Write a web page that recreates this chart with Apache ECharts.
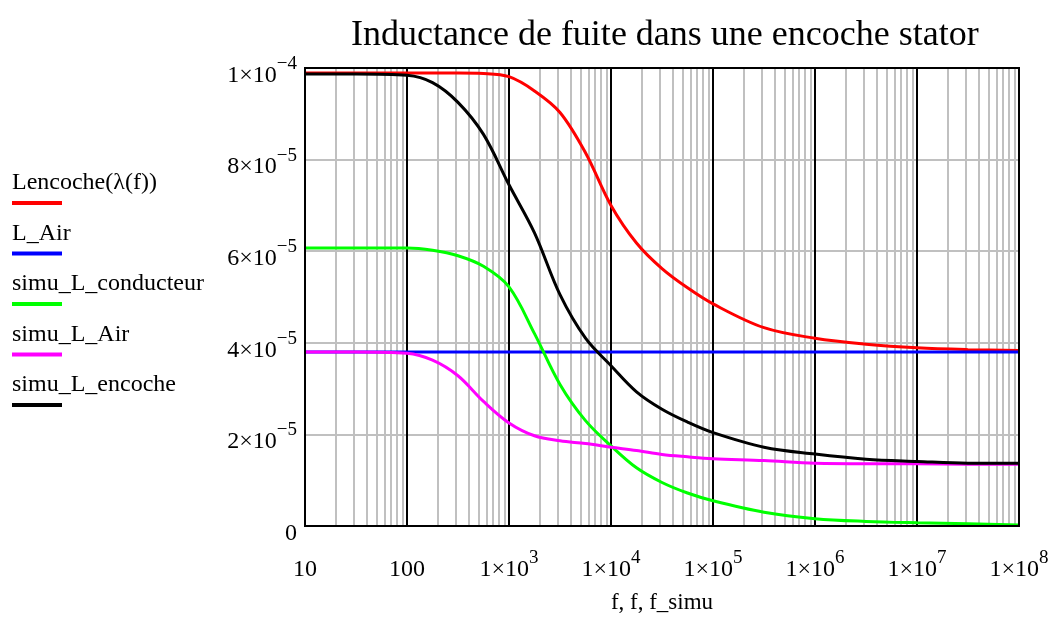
<!DOCTYPE html>
<html>
<head>
    <meta charset="utf-8"/>
    <style>
        html, body {
            height: 100%;
            margin: 0;
            padding: 0;
            background: #fff;
        }

        .container {
            width: 1053px;
            height: 619px;
        }
    </style>
</head>

<body>
<div id="main" class="container"></div>
<script src="https://cdn.jsdelivr.net/npm/echarts@6/dist/echarts.min.js"></script>
<script type="text/javascript">
// frequences (Hz) des points relevés
var freqs = [10, 31.6, 100, 178, 316, 562, 1000, 1778, 3162, 5623, 10000, 17783, 31623, 56234,
    1e5, 316228, 1e6, 3162278, 1e7, 31622777, 1e8];

// inductances (H)
var lencoche = [9.89e-5, 9.89e-5, 9.89e-5, 9.89e-5, 9.89e-5, 9.88e-5, 9.81e-5, 9.5e-5, 9.03e-5, 8.15e-5,
    7.0e-5, 6.18e-5, 5.62e-5, 5.2e-5, 4.85e-5, 4.33e-5, 4.1e-5, 3.97e-5, 3.89e-5, 3.85e-5, 3.83e-5];
var lAirFreqs = [10, 1e8];
var lAir = [3.8e-5, 3.8e-5];
var simuConducteur = [6.07e-5, 6.07e-5, 6.07e-5, 6.02e-5, 5.9e-5, 5.67e-5, 5.22e-5, 4.2e-5, 3.09e-5, 2.3e-5,
    1.75e-5, 1.27e-5, 0.95e-5, 0.72e-5, 0.55e-5, 0.3e-5, 0.16e-5, 0.1e-5, 0.07e-5, 0.05e-5, 0.02e-5];
var simuAir = [3.8e-5, 3.8e-5, 3.77e-5, 3.62e-5, 3.28e-5, 2.72e-5, 2.25e-5, 1.97e-5, 1.86e-5, 1.8e-5,
    1.72e-5, 1.65e-5, 1.56e-5, 1.51e-5, 1.47e-5, 1.43e-5, 1.37e-5, 1.36e-5, 1.36e-5, 1.35e-5, 1.35e-5];
var simuEncoche = [9.87e-5, 9.87e-5, 9.84e-5, 9.68e-5, 9.25e-5, 8.55e-5, 7.45e-5, 6.4e-5, 5.05e-5, 4.1e-5,
    3.5e-5, 2.93e-5, 2.55e-5, 2.27e-5, 2.04e-5, 1.72e-5, 1.57e-5, 1.46e-5, 1.41e-5, 1.37e-5, 1.37e-5];

var names = ['Lencoche(λ(f))', 'L_Air', 'simu_L_conducteur', 'simu_L_Air', 'simu_L_encoche'];
var colors = ['#ff0000', '#0000ff', '#00ff00', '#ff00ff', '#000000'];

var serif = 'Liberation Serif';

function pairs(xs, ys) {
    var out = [];
    for (var i = 0; i < xs.length; i++) {
        out.push([xs[i], ys[i]]);
    }
    return out;
}

// lignes secondaires de la grille log (2..9 par decade)
var minorLines = [];
for (var d = 10; d < 1e8; d *= 10) {
    for (var k = 2; k <= 9; k++) {
        minorLines.push({xAxis: d * k});
    }
}

var richLabel = {
    b: {fontFamily: serif, fontSize: 24, color: '#000', lineHeight: 33, verticalAlign: 'bottom'},
    s: {fontFamily: serif, fontSize: 19, color: '#000', lineHeight: 33, verticalAlign: 'top'}
};

var legendRich = {
    t: {fontFamily: serif, fontSize: 24, color: '#000', lineHeight: 26}
};
for (var c = 0; c < colors.length; c++) {
    legendRich['c' + c] = {width: 50, height: 4, backgroundColor: colors[c], lineHeight: 14};
}

var myChart = echarts.init(document.getElementById('main'));

var option = {
    animation: false,
    backgroundColor: '#fff',
    title: {
        text: 'Inductance de fuite dans une encoche stator',
        left: 346,
        top: 13,
        textStyle: {fontFamily: serif, fontSize: 36, fontWeight: 'normal', color: '#000'}
    },
    legend: {
        orient: 'vertical',
        left: 6,
        top: 171,
        padding: 0,
        itemGap: 12.5,
        itemWidth: 1,
        itemHeight: 1,
        icon: 'none',
        selectedMode: false,
        data: names,
        formatter: function (name) {
            var i = names.indexOf(name);
            return '{t|' + name + '}\n{c' + i + '| }';
        },
        textStyle: {rich: legendRich}
    },
    grid: {
        left: 305,
        right: 34,
        top: 68,
        bottom: 89,
        show: true,
        borderColor: '#000',
        borderWidth: 2,
        z: 4
    },
    xAxis: {
        type: 'log',
        logBase: 10,
        min: 10,
        max: 1e8,
        interval: 1,
        name: 'f, f, f_simu',
        nameLocation: 'middle',
        nameGap: 65,
        nameTextStyle: {fontFamily: serif, fontSize: 23, color: '#000'},
        axisLine: {show: false},
        axisTick: {show: false},
        axisLabel: {
            margin: 23,
            formatter: function (v) {
                var e = Math.round(Math.log10(v));
                if (e <= 2) return '{b|' + Math.round(v) + '}';
                return '{b|1×10}{s|' + e + '}';
            },
            rich: richLabel
        },
        splitLine: {show: true, lineStyle: {color: '#000', width: 2}}
    },
    yAxis: {
        type: 'value',
        min: 0,
        max: 1e-4,
        interval: 2e-5,
        axisLine: {show: false},
        axisTick: {show: false},
        axisLabel: {
            margin: 8,
            padding: [6, 0, 0, 0],
            formatter: function (v) {
                if (v === 0) return '{b|0}';
                var p = v.toExponential(0).split('e');
                return '{b|' + p[0] + '×10}{s|−' + Math.abs(+p[1]) + '}';
            },
            rich: richLabel
        },
        splitLine: {show: true, lineStyle: {color: '#c0c0c0', width: 2}}
    },
    series: [
        {
            name: '_minor',
            type: 'line',
            data: [],
            silent: true,
            markLine: {
                silent: true,
                symbol: ['none', 'none'],
                z: 1,
                label: {show: false},
                lineStyle: {color: '#c0c0c0', width: 2, type: 'solid'},
                data: minorLines
            }
        }
    ]
};

var seriesData = [
    pairs(freqs, lencoche),
    pairs(lAirFreqs, lAir),
    pairs(freqs, simuConducteur),
    pairs(freqs, simuAir),
    pairs(freqs, simuEncoche)
];

for (var i = 0; i < names.length; i++) {
    option.series.push({
        name: names[i],
        type: 'line',
        data: seriesData[i],
        showSymbol: false,
        smooth: 0.35,
        color: colors[i],
        lineStyle: {color: colors[i], width: 3}
    });
}

myChart.setOption(option);
</script>
</body>
</html>
